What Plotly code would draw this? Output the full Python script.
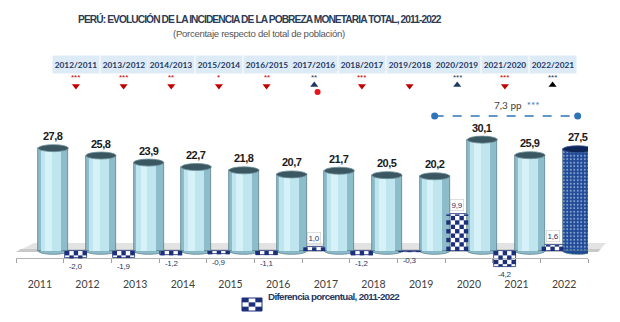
import math
import plotly.graph_objects as go

# ---------------- data ----------------
years = ["2011", "2012", "2013", "2014", "2015", "2016",
         "2017", "2018", "2019", "2020", "2021", "2022"]
poverty = [27.8, 25.8, 23.9, 22.7, 21.8, 20.7, 21.7, 20.5, 20.2, 30.1, 25.9, 27.5]
diff_values = [-2.0, -1.9, -1.2, -0.9, -1.1, 1.0, -1.2, -0.3, 9.9, -4.2, 1.6]
periods = ["2012/2011", "2013/2012", "2014/2013", "2015/2014", "2016/2015", "2017/2016",
           "2018/2017", "2019/2018", "2020/2019", "2021/2020", "2022/2021"]
stars = ["***", "***", "**", "*", "**", "**", "***", "", "***", "***", "***"]
direction = ["down", "down", "down", "down", "down", "up", "down", "down", "up", "down", "up"]
extra_dot = [False, False, False, False, False, True, False, False, False, False, False]
span_from, span_to = "2019", "2022"
span_label = "7,3 pp"
span_stars = "***"
title = "PERÚ: EVOLUCIÓN DE LA INCIDENCIA DE LA POBREZA MONETARIA TOTAL, 2011-2022"
subtitle = "(Porcentaje respecto del total de población)"
legend_name = "Diferencia porcentual, 2011-2022"

# ---------------- layout helpers ----------------
W, H = 620, 322
ML, MR = 16, 32
PXU = 3.7          # pixels per percentage point
ZERO = 251         # pixel row of value 0
UNIT_PX = (W - ML - MR) / len(years)


def vy(py):
    return (ZERO - py) / PXU


def pxx(px):
    return (px - ML) / (W - ML - MR)


def pxy(py):
    return (H - py) / H


def fmt(v):
    return f"{v:.1f}".replace(".", ",")


def tight(s, ls):
    return f"<span style='letter-spacing:{ls}px'>{s}</span>"


n = len(years)
xs = list(range(n))
CYL_C, CYL_W = 0.283, 0.63
DIF_C, DIF_W = -0.243, 0.46
NAVY = "#1f3864"
CHECK = "#1b2f7a"
RED = "#c00000"
SANS = "Liberation Sans"

fig = go.Figure()

# difference bars (white base, checkered by shapes below)
fig.add_trace(go.Bar(
    x=xs[1:], y=diff_values, width=DIF_W, offset=DIF_C - DIF_W / 2,
    name=legend_name, showlegend=False,
    marker=dict(color="white", line=dict(color=CHECK, width=0.8)),
    hoverinfo="skip"))

# cylinders: base
base_cols = ["#8dbccb"] * (n - 1) + ["#1e4a98"]
pat_shapes = [""] * (n - 1) + ["."]
fig.add_trace(go.Bar(
    x=xs, y=poverty, width=CYL_W, offset=CYL_C - CYL_W / 2, showlegend=False,
    marker=dict(color=base_cols, line=dict(color="#4f7480", width=0.7),
                pattern=dict(shape=pat_shapes, fgcolor="#a9c1e8", bgcolor="#1e4a98",
                             size=3.5, solidity=0.25)),
    hoverinfo="skip"))
light = [v if i < n - 1 else None for i, v in enumerate(poverty)]
fig.add_trace(go.Bar(x=xs, y=light, width=0.42, offset=CYL_C - 0.05 - 0.21,
                     marker=dict(color="#bfe5ef", line=dict(width=0)),
                     showlegend=False, hoverinfo="skip"))
fig.add_trace(go.Bar(x=xs, y=light, width=0.14, offset=CYL_C - 0.1 - 0.07,
                     marker=dict(color="#d6f1f7", line=dict(width=0)),
                     showlegend=False, hoverinfo="skip"))

# significance triangles
dx = [i + 1 + DIF_C for i in range(len(periods))]
down_x = [x for x, d in zip(dx, direction) if d == "down"]
up_x = [x for x, d in zip(dx, direction) if d == "up"]
up_col = [("#000000" if p == periods[-1] else NAVY) for p, d in zip(periods, direction) if d == "up"]
fig.add_trace(go.Scatter(x=down_x, y=[vy(86)] * len(down_x), mode="markers",
                         marker=dict(symbol="triangle-down", size=7, color=RED),
                         showlegend=False, hoverinfo="skip"))
fig.add_trace(go.Scatter(x=up_x, y=[vy(85)] * len(up_x), mode="markers",
                         marker=dict(symbol="triangle-up", size=7, color=up_col),
                         showlegend=False, hoverinfo="skip"))
dot_x = [x + 0.07 for x, e in zip(dx, extra_dot) if e]
fig.add_trace(go.Scatter(x=dot_x, y=[vy(92)] * len(dot_x), mode="markers",
                         marker=dict(symbol="circle", size=6, color="#e8141c"),
                         showlegend=False, hoverinfo="skip"))

# 7,3 pp span line
i0, i1 = years.index(span_from), years.index(span_to)
fig.add_trace(go.Scatter(x=[i0 + CYL_C, i1 + CYL_C], y=[vy(116)] * 2, mode="lines+markers",
                         line=dict(color="#2e75b6", width=1.6, dash="dash"),
                         marker=dict(size=7, color="#2e75b6"),
                         showlegend=False, hoverinfo="skip"))

shapes = []
# floor
shapes.append(dict(type="path", xref="paper", yref="paper", layer="below",
                   path=f"M {pxx(16)},{pxy(252)} L {pxx(34)},{pxy(243)} L {pxx(606)},{pxy(243)} L {pxx(598)},{pxy(252)} Z",
                   fillcolor="#e3e3e3", line=dict(width=0)))
shapes.append(dict(type="path", xref="paper", yref="paper", layer="below",
                   path=f"M {pxx(16)},{pxy(252)} L {pxx(21)},{pxy(249)} L {pxx(601)},{pxy(249)} L {pxx(598)},{pxy(252)} Z",
                   fillcolor="#c9c9c9", line=dict(width=0)))
# cylinder bottoms and tops
for i, v in enumerate(poverty):
    x0, x1 = i + CYL_C - CYL_W / 2, i + CYL_C + CYL_W / 2
    bcol = base_cols[i]
    shapes.append(dict(type="circle", xref="x", yref="y", layer="below",
                       x0=x0, x1=x1, y0=-0.9, y1=0.9, fillcolor=bcol,
                       line=dict(color="#4f7480", width=0.7)))
    tcol = "#3b5762" if i < n - 1 else "#0d2557"
    shapes.append(dict(type="circle", xref="x", yref="y", layer="above",
                       x0=x0, x1=x1, y0=v - 0.95, y1=v + 0.95, fillcolor=tcol,
                       line=dict(color="#6f8f99" if i < n - 1 else "#3a5a9a", width=0.8)))

# checker texture on the difference bars (cells follow each bar's own extent)
NCOL = 5
cw = DIF_W / NCOL
ch = cw * UNIT_PX / PXU
for k, v in enumerate(diff_values):
    left = k + 1 + DIF_C - DIF_W / 2
    sgn = 1 if v >= 0 else -1
    nrows = math.ceil(abs(v) / ch - 1e-9)
    for r in range(nrows):
        lo, hi = r * ch, min((r + 1) * ch, abs(v))
        for c in range(NCOL):
            if (r + c) % 2 == 0:
                shapes.append(dict(type="rect", xref="x", yref="y", layer="above",
                                   x0=left + c * cw, x1=left + (c + 1) * cw,
                                   y0=sgn * lo, y1=sgn * hi,
                                   fillcolor=CHECK, line=dict(width=0)))

# legend icon (3x3 checker)
LX0, LX1, LY0, LY1 = 242, 262, 298, 311
for r in range(3):
    for c in range(3):
        if (r + c) % 2 == 0:
            shapes.append(dict(type="rect", xref="paper", yref="paper",
                               x0=pxx(LX0 + c * (LX1 - LX0) / 3), x1=pxx(LX0 + (c + 1) * (LX1 - LX0) / 3),
                               y0=pxy(LY0 + r * (LY1 - LY0) / 3), y1=pxy(LY0 + (r + 1) * (LY1 - LY0) / 3),
                               fillcolor=CHECK, line=dict(width=0)))
shapes.append(dict(type="rect", xref="paper", yref="paper",
                   x0=pxx(LX0), x1=pxx(LX1), y0=pxy(LY0), y1=pxy(LY1),
                   fillcolor="rgba(0,0,0,0)", line=dict(color=CHECK, width=1)))

annotations = []
annotations.append(dict(text=f"<b>{tight(title, -0.9)}</b>", xref="paper", yref="paper",
                        x=pxx(260), y=pxy(11), showarrow=False,
                        font=dict(family=SANS, size=10.2, color="#2b3a55")))
annotations.append(dict(text=tight(subtitle, -0.3), xref="paper", yref="paper",
                        x=pxx(259), y=pxy(26), showarrow=False,
                        font=dict(family=SANS, size=9.6, color="#555555")))
annotations.append(dict(text=f"<b>{tight(legend_name, -0.65)}</b>", xref="paper", yref="paper",
                        x=pxx(266), y=pxy(304), xanchor="left", showarrow=False,
                        font=dict(family=SANS, size=9.8, color=NAVY)))
for i, v in enumerate(poverty):
    annotations.append(dict(text=f"<b>{tight(fmt(v), -0.5)}</b>", x=i + CYL_C, y=v, yshift=12,
                            showarrow=False,
                            font=dict(family=SANS, size=11, color="#1a1a1a")))
for k, v in enumerate(diff_values):
    x = k + 1 + DIF_C
    if v >= 0:
        annotations.append(dict(text=tight(fmt(v), -0.3), x=x, y=v, yshift=9, showarrow=False,
                                bgcolor="white", bordercolor="#c8c8c8", borderwidth=0.6, borderpad=1,
                                font=dict(family=SANS, size=8, color=NAVY)))
    else:
        annotations.append(dict(text=tight(fmt(v), -0.3), x=x, y=v, yshift=-8, showarrow=False,
                                font=dict(family=SANS, size=8, color=NAVY)))
for k, p in enumerate(periods):
    x = k + 1 + DIF_C
    annotations.append(dict(text=f"<b>{p}</b>", x=x, y=vy(64), showarrow=False,
                            width=44, height=15, bgcolor="#ddebf7",
                            font=dict(family="Lato", size=8.3, color=NAVY)))
    if stars[k]:
        col = RED if direction[k] == "down" else NAVY
        annotations.append(dict(text=stars[k], x=x, y=vy(77), showarrow=False,
                                font=dict(family=SANS, size=8, color=col)))
annotations.append(dict(text=f"{span_label}  <span style='color:#2e75b6'>{span_stars}</span>",
                        x=(i0 + i1) / 2 + 0.5, y=vy(105), showarrow=False,
                        font=dict(family="Lato", size=10, color="#404040")))

fig.update_layout(
    width=W, height=H, margin=dict(l=ML, r=MR, t=0, b=0),
    paper_bgcolor="white", plot_bgcolor="white",
    barmode="overlay", bargap=0,
    shapes=shapes, annotations=annotations,
    showlegend=False,
    xaxis=dict(range=[-0.5, n - 0.5], tickmode="array", tickvals=xs, ticktext=years,
               ticks="", showgrid=False, zeroline=False, showline=True,
               linecolor="#b5b5b5", linewidth=1, anchor="free", position=pxy(258),
               ticklabelstandoff=16,
               tickfont=dict(family="Lato", size=10.5, color="#404040"),
               minor=dict(tickmode="array", tickvals=[i - 0.5 for i in range(n + 1)],
                          ticks="outside", ticklen=4, tickcolor="#a0a0a0", showgrid=False)),
    yaxis=dict(range=[vy(H), vy(0)], visible=False, showgrid=False, zeroline=False),
)

fig.write_html("out.html")
